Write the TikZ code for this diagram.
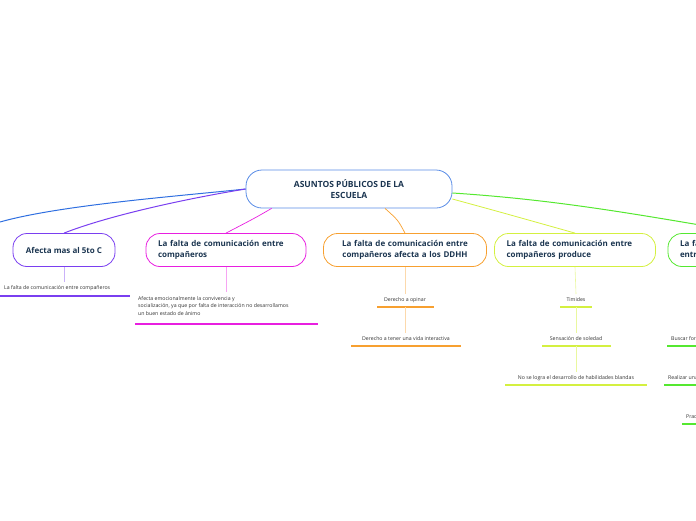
\documentclass[tikz,border=0pt]{standalone}
\usepackage{fontspec}
\setmainfont{Open Sans}
\usetikzlibrary{positioning}
\definecolor{navy}{HTML}{1B3550}
\definecolor{cblue}{HTML}{2F6FE0}
\definecolor{cpurple}{HTML}{7A3FF0}
\definecolor{cmagenta}{HTML}{E81FE0}
\definecolor{corange}{HTML}{F7A030}
\definecolor{cyellow}{HTML}{D4F040}
\definecolor{cgreen}{HTML}{55E830}
\tikzset{
    topic/.style={draw, rounded corners=14pt, line width=0.8pt, minimum height=33pt, font=\bfseries\fontsize{8}{10.5}\selectfont, text=navy, inner xsep=12pt},
    leaf/.style={font=\fontsize{5.2}{7.5}\selectfont, text=black!80, inner sep=1pt},
    uline/.style={line width=1.2pt},
    stem/.style={line width=0.6pt}
}
\begin{document}
\begin{tikzpicture}[x=1pt, y=-1pt]
    \useasboundingbox (0,0) rectangle (696,520);
    \clip (0,0) rectangle (696,520);

% root

    \node[draw=cblue!80, rounded corners=16pt, line width=0.8pt, minimum width=206pt, minimum height=38pt, align=center, font=\bfseries\fontsize{8.5}{11}\selectfont, text=navy] (root) at (349,189) {ASUNTOS PÚBLICOS DE LA\\ESCUELA};

% topics

    \node[topic, draw=cpurple, minimum width=102pt] (quinto) at (64,250) {Afecta mas al 5to C};
    \node[topic, draw=cmagenta, minimum width=160pt, align=left, text width=136pt] (falta) at (226,250) {La falta de comunicación entre\\compañeros};
    \node[topic, draw=corange, minimum width=163pt, align=center, text width=139pt] (ddhh) at (405,250) {La falta de comunicación entre\\compañeros afecta a los DDHH};
    \node[topic, draw=cyellow, minimum width=161pt, align=left, text width=137pt] (produce) at (575,250) {La falta de comunicación entre\\compañeros produce};
    \node[topic, draw=cgreen, minimum width=160pt, align=left, text width=136pt] (solucion) at (748,250) {La falta de comunicación\\entre compañeros};
    \coordinate (offleft) at (0,222);

% edges from root

    \draw[cblue, line width=1pt] (root.west) .. controls (180,196) and (60,205) .. (offleft);
    \draw[cpurple, line width=1pt] (root.west) .. controls (190,198) and (110,215) .. (quinto.north);
    \draw[cmagenta, line width=0.7pt] (root.south west) ++(26,0) coordinate (rb) .. controls (255,218) .. (falta.north);
    \draw[corange, line width=0.7pt] (root.south) ++(36,0) coordinate (rc) .. controls (398,220) .. (ddhh.north);
    \draw[cyellow, line width=0.8pt] (root.east) ++(0,10) coordinate (rd) .. controls (500,212) .. (produce.north);
    \draw[cgreen, line width=1pt] (root.east) ++(0,4) coordinate (re) .. controls (560,200) and (640,215) .. (solucion.north);

% leaves

    \node[leaf, anchor=west] (q1) at (3,288) {La falta  de comunicación entre compañeros};
    \draw[cpurple, uline] (0,296) -- (130,296);
    \draw[cpurple!40, stem] (quinto.south) -- (64,282);

    \node[leaf, anchor=north west, align=left] (f1) at (137,295) {Afecta emocionalmente  la convivencia y\\socialización, ya que por falta de interacción no desarrollamos\\un buen estado de ánimo};
    \draw[cmagenta, uline] (135,324) -- (318,324);
    \draw[cmagenta!40, stem] (falta.south) -- (226,292);

    \node[leaf] (d1) at (405,300) {Derecho a opinar};
    \node[leaf] (d2) at (406,339) {Derecho a tener una vida interactiva};
    \draw[corange, uline] (377,307) -- (434,307);
    \draw[corange, uline] (351,346) -- (461,346);
    \draw[corange!40, stem] (ddhh.south) -- (405,294);
    \draw[corange!40, stem] (405,307) -- (405,333);

    \node[leaf] (p1) at (576,300) {Timides};
    \node[leaf] (p2) at (576,339) {Sensación de soledad};
    \node[leaf] (p3) at (576,378) {No se logra el desarrollo de habilidades blandas};
    \draw[cyellow, uline] (560,307) -- (592,307);
    \draw[cyellow, uline] (542,346) -- (611,346);
    \draw[cyellow, uline] (505,385) -- (647,385);
    \draw[cyellow!50, stem] (produce.south) -- (576,294);
    \draw[cyellow!50, stem] (576,307) -- (576,333);
    \draw[cyellow!50, stem] (576,346) -- (576,372);

    \node[leaf, anchor=west] (s1) at (670,339) {Buscar formas};
    \node[leaf, anchor=west] (s2) at (667,378) {Realizar una};
    \node[leaf, anchor=west] (s3) at (685,417) {Practicar};
    \draw[cgreen, uline] (667,346) -- (696,346);
    \draw[cgreen, uline] (664,385) -- (696,385);
    \draw[cgreen, uline] (682,424) -- (696,424);

   \end{tikzpicture}
\end{document}
